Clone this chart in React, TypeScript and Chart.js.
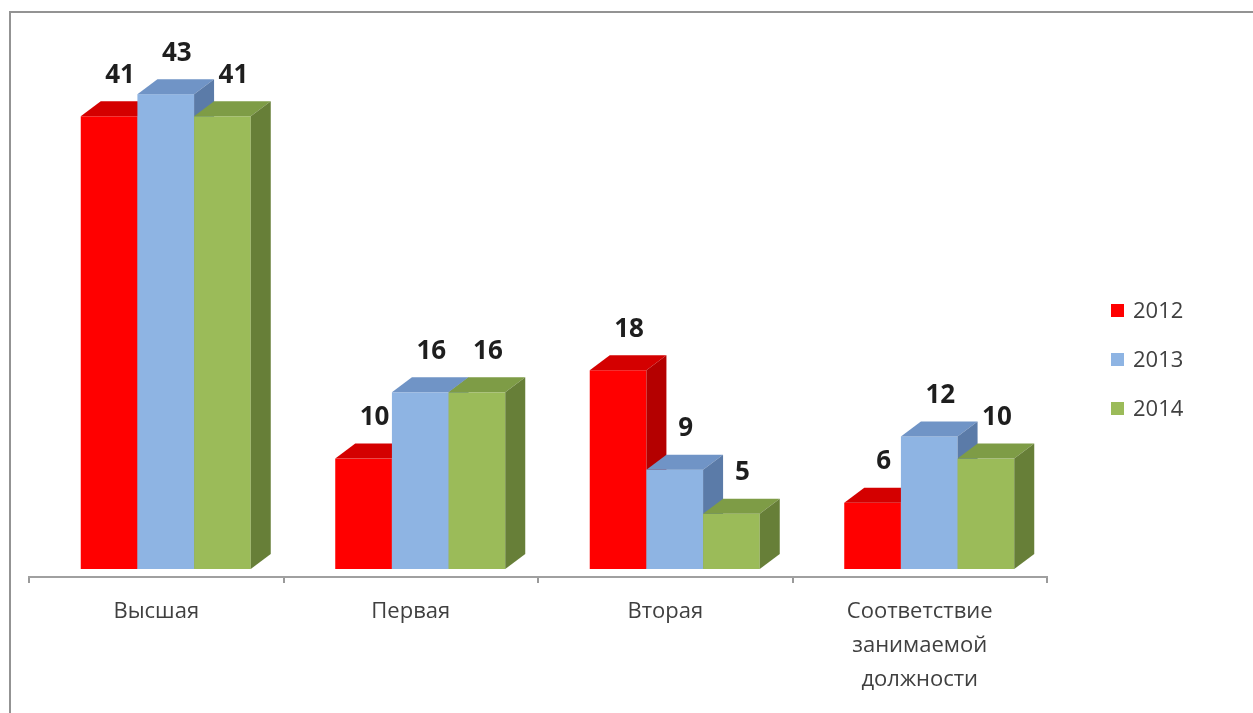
import React, { useEffect, useRef } from 'react';
import { Chart, registerables } from 'chart.js';

Chart.register(...registerables);

// ---- data ----
const categories: string[][] = [
  ['Высшая'],
  ['Первая'],
  ['Вторая'],
  ['Соответствие', 'занимаемой', 'должности'],
];
const seriesNames = ['2012', '2013', '2014'];
const values2012 = [41, 10, 18, 6];
const values2013 = [43, 16, 9, 12];
const values2014 = [41, 16, 5, 10];

// ---- styles ----
const frontColors = ['#FF0000', '#8EB4E3', '#9BBB59'];
const topColors = ['#D40000', '#7094C6', '#7E9C46'];
const sideColors = ['#B40000', '#5B7BA8', '#677F38'];

const DX = 20;
const DY = 15;
const OFF_X = 9.5;
const OFF_Y = -8;
const FONT = '"Open Sans", "Noto Sans", sans-serif';

const bars3d = {
  id: 'bars3d',
  afterDatasetsDraw(chart: any) {
    const ctx: CanvasRenderingContext2D = chart.ctx;
    ctx.save();
    const labels: { x: number; y: number; v: number }[] = [];
    chart.data.datasets.forEach((ds: any, di: number) => {
      const meta = chart.getDatasetMeta(di);
      meta.data.forEach((el: any, i: number) => {
        const { x, y, base, width } = el.getProps(['x', 'y', 'base', 'width'], true);
        const l = x - width / 2 + OFF_X;
        const r = x + width / 2 + OFF_X;
        const t = y + OFF_Y;
        const b = base + OFF_Y;
        // front
        ctx.fillStyle = frontColors[di];
        ctx.fillRect(l, t, r - l, b - t);
        // top
        ctx.fillStyle = topColors[di];
        ctx.beginPath();
        ctx.moveTo(l, t);
        ctx.lineTo(l + DX, t - DY);
        ctx.lineTo(r + DX, t - DY);
        ctx.lineTo(r, t);
        ctx.closePath();
        ctx.fill();
        // side
        ctx.fillStyle = sideColors[di];
        ctx.beginPath();
        ctx.moveTo(r, t);
        ctx.lineTo(r + DX, t - DY);
        ctx.lineTo(r + DX, b - DY);
        ctx.lineTo(r, b);
        ctx.closePath();
        ctx.fill();
        labels.push({ x: (l + r) / 2 + 11, y: t - 41, v: ds.data[i] });
      });
    });
    ctx.fillStyle = '#1e1e1e';
    ctx.font = `bold 26px ${FONT}`;
    ctx.textAlign = 'center';
    ctx.textBaseline = 'middle';
    labels.forEach((lb) => ctx.fillText(String(lb.v), lb.x, lb.y));

    // legend
    const rows = [311, 360, 409];
    ctx.font = `22px ${FONT}`;
    ctx.textAlign = 'left';
    chart.data.datasets.forEach((ds: any, di: number) => {
      const cy = rows[di];
      ctx.fillStyle = frontColors[di];
      ctx.fillRect(1111, cy - 7, 13, 13);
      ctx.fillStyle = '#404040';
      ctx.fillText(ds.label, 1133, cy + 1);
    });
    ctx.restore();
  },
};

export default function App() {
  const ref = useRef<HTMLCanvasElement>(null);
  useEffect(() => {
    const chart = new Chart(ref.current as HTMLCanvasElement, {
      type: 'bar',
      data: {
        labels: categories,
        datasets: [
          { label: seriesNames[0], data: values2012 },
          { label: seriesNames[1], data: values2013 },
          { label: seriesNames[2], data: values2014 },
        ].map((d) => ({
          ...d,
          backgroundColor: 'rgba(0,0,0,0)',
          borderWidth: 0,
          categoryPercentage: 0.668,
          barPercentage: 1,
        })),
      },
      options: {
        responsive: false,
        animation: false,
        devicePixelRatio: 1,
        layout: { padding: { left: 29, right: 206, top: 47, bottom: 0 } },
        plugins: {
          legend: { display: false },
          tooltip: { enabled: false },
        },
        scales: {
          y: {
            display: false,
            min: 0,
            max: 48,
          },
          x: {
            offset: true,
            grid: {
              display: true,
              offset: true,
              drawOnChartArea: false,
              drawTicks: true,
              tickLength: 6,
              color: '#9a9a9a',
              lineWidth: 2,
            },
            border: { display: true, color: '#a0a0a0', width: 2 },
            ticks: {
              color: '#404040',
              padding: 12,
              maxRotation: 0,
              autoSkip: false,
              font: { family: FONT, size: 22, lineHeight: 34 / 22 },
            },
            afterFit(scale: any) {
              scale.height = 136;
            },
          },
        },
      },
      plugins: [bars3d],
    });
    return () => chart.destroy();
  }, []);

  return (
    <div
      style={{
        position: 'fixed',
        left: 0,
        top: 0,
        width: 1253,
        height: 713,
        overflow: 'hidden',
        background: '#fff',
      }}
    >
      <div
        style={{
          position: 'absolute',
          left: 9,
          top: 11,
          width: 1400,
          height: 900,
          border: '2px solid #939393',
        }}
      />
      <canvas
        ref={ref}
        width={1253}
        height={713}
        style={{ position: 'absolute', left: 0, top: 0, width: 1253, height: 713 }}
      />
    </div>
  );
}
